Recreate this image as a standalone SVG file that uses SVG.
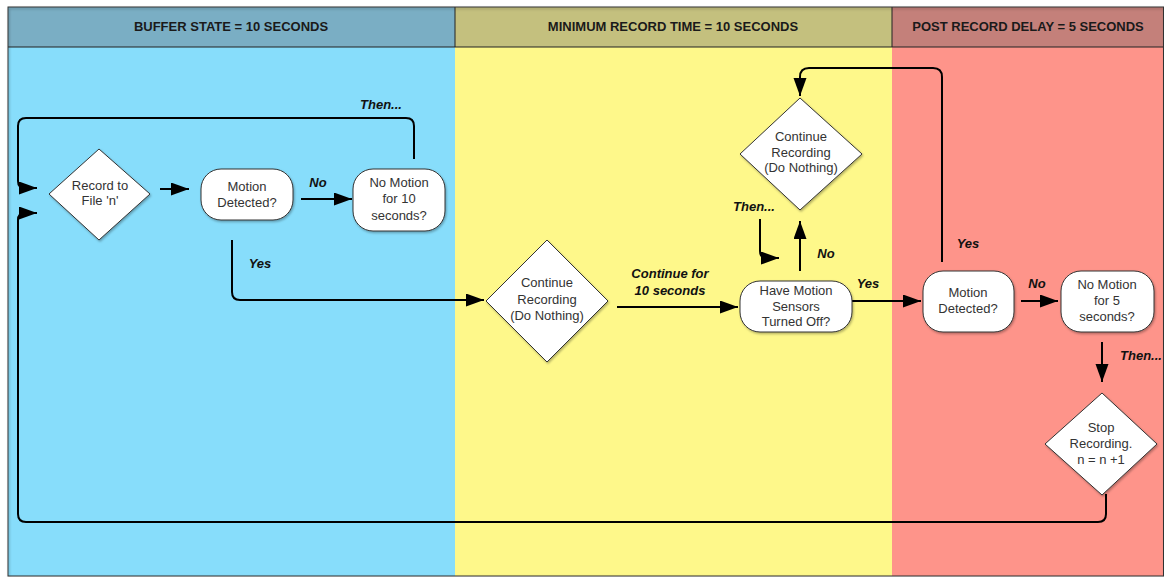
<svg xmlns="http://www.w3.org/2000/svg" width="1164" height="577" viewBox="0 0 1164 577">
<style>
.hdr{font-family:"Liberation Sans",Arial,sans-serif;font-size:13px;font-weight:bold;fill:#1a1a1a;text-anchor:middle}
.nt{font-family:"Liberation Sans",Arial,sans-serif;font-size:13px;fill:#333;text-anchor:middle}
.lbl{font-family:"Liberation Sans",Arial,sans-serif;font-size:13px;font-weight:bold;font-style:italic;fill:#111;text-anchor:middle}
.shape{fill:#fff;stroke:#333;stroke-width:1}
.conn{fill:none;stroke:#000;stroke-width:2}
</style>
<defs>
<marker id="ah" markerUnits="userSpaceOnUse" markerWidth="19" markerHeight="14" refX="18" refY="6.5" orient="auto">
<path d="M0,0 L18,6.5 L0,13 z" fill="#000"/>
</marker>
<filter id="sh" x="-10%" y="-10%" width="130%" height="130%">
<feDropShadow dx="1" dy="1.5" stdDeviation="1" flood-color="#000" flood-opacity="0.3"/>
</filter>
</defs>
<g id="lanes">
<rect x="8" y="7" width="447" height="569" fill="#87ddfb"/>
<rect x="455" y="7" width="437" height="569" fill="#fef88a"/>
<rect x="892" y="7" width="272" height="569" fill="#fe948a"/>
<rect x="8" y="7" width="447" height="40" fill="#7aaec4"/>
<rect x="455" y="7" width="437" height="40" fill="#c4c07e"/>
<rect x="892" y="7" width="272" height="40" fill="#c4807a"/>
<line x1="8" y1="47" x2="1164" y2="47" stroke="#222" stroke-width="1"/>
<line x1="455" y1="7" x2="455" y2="47" stroke="#222" stroke-width="1"/>
<line x1="892" y1="7" x2="892" y2="47" stroke="#222" stroke-width="1"/>
<rect x="8" y="7" width="1155.5" height="569" fill="none" stroke="#333" stroke-width="1" filter="url(#sh)"/>
<text class="hdr" x="231" y="31">BUFFER STATE = 10 SECONDS</text>
<text class="hdr" x="673" y="31">MINIMUM RECORD TIME = 10 SECONDS</text>
<text class="hdr" x="1028" y="31">POST RECORD DELAY = 5 SECONDS</text>
</g>
<g id="connectors">
<path class="conn" d="M414,159 V126 Q414,118 406,118 H26 Q18,118 18,126 V181 Q18,188 25,188 H37" marker-end="url(#ah)"/>
<path class="conn" d="M1106,494 V514 Q1106,522 1098,522 H26 Q18,522 18,514 V220 Q18,213 25,213 H37" marker-end="url(#ah)"/>
<path class="conn" d="M160,189 H189" marker-end="url(#ah)"/>
<path class="conn" d="M301,199 H352" marker-end="url(#ah)"/>
<path class="conn" d="M232,240 V292 Q232,300 240,300 H484" marker-end="url(#ah)"/>
<path class="conn" d="M617,307 H738" marker-end="url(#ah)"/>
<path class="conn" d="M800,271 V221" marker-end="url(#ah)"/>
<path class="conn" d="M760,219 V251 Q760,258 767,258 H779" marker-end="url(#ah)"/>
<path class="conn" d="M852,301 H921" marker-end="url(#ah)"/>
<path class="conn" d="M942,262 V77 Q942,68 933,68 H809 Q800,68 800,77 V96" marker-end="url(#ah)"/>
<path class="conn" d="M1021,301 H1058" marker-end="url(#ah)"/>
<path class="conn" d="M1102,342 V382" marker-end="url(#ah)"/>
<text class="lbl" x="381" y="109">Then...</text>
<text class="lbl" x="318" y="187">No</text>
<text class="lbl" x="260" y="268">Yes</text>
<text class="lbl" x="670" y="278">Continue for</text>
<text class="lbl" x="670" y="295">10 seconds</text>
<text class="lbl" x="754" y="211">Then...</text>
<text class="lbl" x="826" y="258">No</text>
<text class="lbl" x="868" y="288">Yes</text>
<text class="lbl" x="968" y="248">Yes</text>
<text class="lbl" x="1037" y="288">No</text>
<text class="lbl" x="1141" y="360">Then...</text>
</g>
<g id="record-file">
<polygon class="shape" filter="url(#sh)" points="99,149 150,194 99,240 49,194"/>
<text class="nt" x="100" y="190">Record to</text>
<text class="nt" x="100" y="205">File 'n'</text>
</g>
<g id="motion-detected-1">
<rect class="shape" filter="url(#sh)" x="201" y="169" width="92" height="51" rx="20" ry="20"/>
<text class="nt" x="247" y="191">Motion</text>
<text class="nt" x="247" y="207">Detected?</text>
</g>
<g id="no-motion-10">
<rect class="shape" filter="url(#sh)" x="353" y="169" width="92" height="62" rx="20" ry="20"/>
<text class="nt" x="399" y="187">No Motion</text>
<text class="nt" x="399" y="203">for 10</text>
<text class="nt" x="399" y="220">seconds?</text>
</g>
<g id="continue-recording-1">
<polygon class="shape" filter="url(#sh)" points="547,240 608,301 547,362 486,301"/>
<text class="nt" x="547" y="287">Continue</text>
<text class="nt" x="547" y="304">Recording</text>
<text class="nt" x="547" y="320">(Do Nothing)</text>
</g>
<g id="sensors-off">
<rect class="shape" filter="url(#sh)" x="740" y="281" width="112" height="51" rx="20" ry="20"/>
<text class="nt" x="796" y="295">Have Motion</text>
<text class="nt" x="796" y="311">Sensors</text>
<text class="nt" x="796" y="326">Turned Off?</text>
</g>
<g id="continue-recording-2">
<polygon class="shape" filter="url(#sh)" points="800,98 862,154 800,210 740,154"/>
<text class="nt" x="801" y="141">Continue</text>
<text class="nt" x="801" y="157">Recording</text>
<text class="nt" x="801" y="172">(Do Nothing)</text>
</g>
<g id="motion-detected-2">
<rect class="shape" filter="url(#sh)" x="923" y="271" width="91" height="61" rx="20" ry="20"/>
<text class="nt" x="968" y="297">Motion</text>
<text class="nt" x="968" y="313">Detected?</text>
</g>
<g id="no-motion-5">
<rect class="shape" filter="url(#sh)" x="1061" y="271" width="93" height="61" rx="20" ry="20"/>
<text class="nt" x="1107" y="289">No Motion</text>
<text class="nt" x="1107" y="305">for 5</text>
<text class="nt" x="1107" y="321">seconds?</text>
</g>
<g id="stop-recording">
<polygon class="shape" filter="url(#sh)" points="1102,393 1157,444 1102,495 1045,444"/>
<text class="nt" x="1101" y="432">Stop</text>
<text class="nt" x="1101" y="448">Recording.</text>
<text class="nt" x="1101" y="464">n = n +1</text>
</g>
</svg>
